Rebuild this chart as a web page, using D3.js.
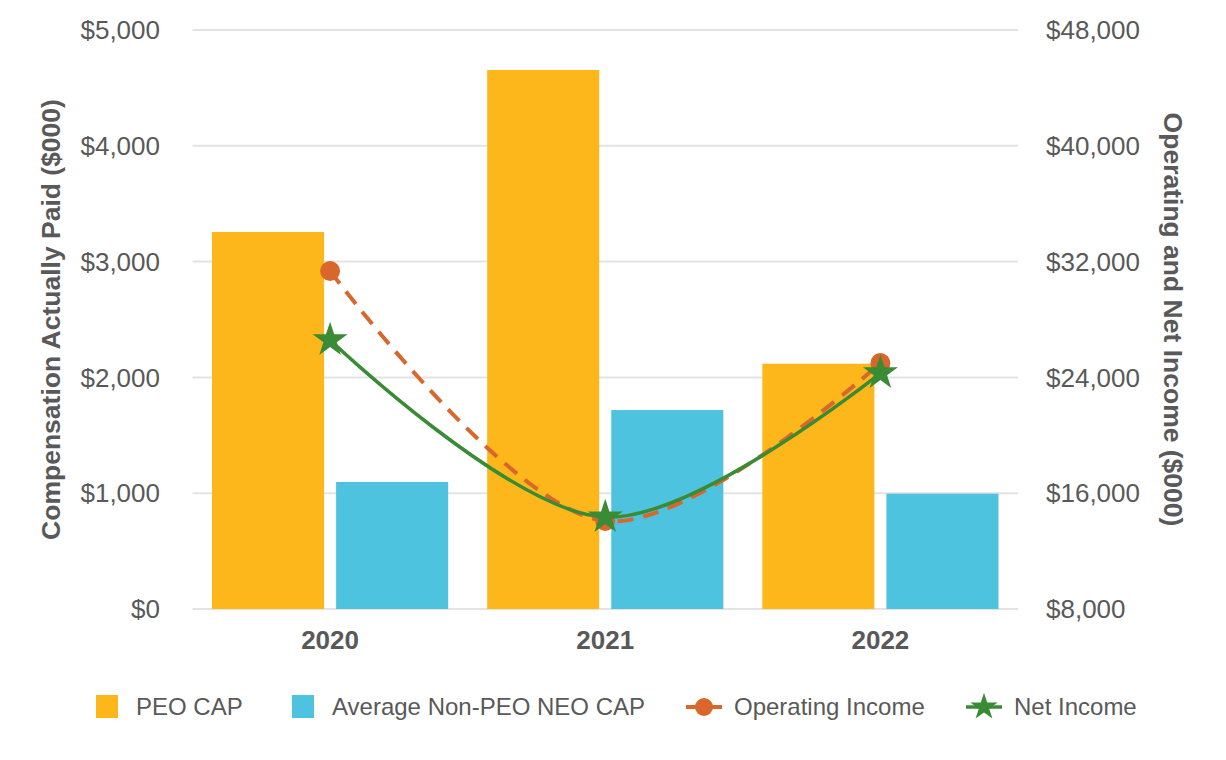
<!doctype html>
<html lang="en">
<head>
<meta charset="utf-8">
<title>Compensation Actually Paid vs Income</title>
<script src="https://d3js.org/d3.v7.min.js"></script>
<style>
  body { margin: 0; background: #fff; }
  text { font-family: "Liberation Sans", Arial, sans-serif; fill: #595959; }
</style>
</head>
<body>
<svg id="chart" width="1226" height="760"></svg>
<script>
// chart data
var years = ["2020", "2021", "2022"];
var peoCap = [3256, 4655, 2118];
var neoCap = [1097, 1718, 996];
var operatingIncome = [31350, 14080, 24990];
var netIncome = [26580, 14350, 24300];
var leftTicks = [0, 1000, 2000, 3000, 4000, 5000];
var rightTicks = [8000, 16000, 24000, 32000, 40000, 48000];

var svg = d3.select("#chart");
// plot box (note: "top" clashes with window.top)
var pLeft = 192.5, pRight = 1018, pTop = 30, pBottom = 609;

var x = d3.scaleBand().domain(years).range([pLeft, pRight]);
var x1 = d3.scaleBand().domain(["peo", "neo"]).range([19.5, x.bandwidth() - 19.5]).paddingInner(0.097);
var yL = d3.scaleLinear().domain([0, 5000]).range([pBottom, pTop]);
var yR = d3.scaleLinear().domain([8000, 48000]).range([pBottom, pTop]);
var money = d3.format("$,");

// gridlines
svg.append("g")
   .selectAll("line")
   .data(leftTicks)
   .enter().append("line")
   .attr("x1", pLeft).attr("x2", pRight)
   .attr("y1", function(d) { return yL(d); })
   .attr("y2", function(d) { return yL(d); })
   .attr("stroke", "#e3e3e3")
   .attr("stroke-width", 2);

// left axis labels
svg.append("g")
   .selectAll("text")
   .data(leftTicks)
   .enter().append("text")
   .attr("x", 160).attr("y", function(d) { return yL(d); })
   .attr("dy", "0.35em")
   .attr("text-anchor", "end")
   .style("font-size", "26px")
   .text(function(d) { return money(d); });

// right axis labels
svg.append("g")
   .selectAll("text")
   .data(rightTicks)
   .enter().append("text")
   .attr("x", 1046).attr("y", function(d) { return yR(d); })
   .attr("dy", "0.35em")
   .style("font-size", "26px")
   .text(function(d) { return money(d); });

// year labels
svg.append("g")
   .selectAll("text")
   .data(years)
   .enter().append("text")
   .attr("x", function(d) { return x(d) + x.bandwidth() / 2; })
   .attr("y", 649)
   .attr("text-anchor", "middle")
   .style("font-size", "26px")
   .style("font-weight", "bold")
   .text(function(d) { return d; });

// axis titles
svg.append("text")
   .attr("transform", "translate(60," + (pTop + pBottom) / 2 + ") rotate(-90)")
   .attr("text-anchor", "middle")
   .style("font-size", "26.5px")
   .style("font-weight", "bold")
   .text("Compensation Actually Paid ($000)");

svg.append("text")
   .attr("transform", "translate(1164," + (pTop + pBottom) / 2 + ") rotate(90)")
   .attr("text-anchor", "middle")
   .style("font-size", "26.5px")
   .style("font-weight", "bold")
   .text("Operating and Net Income ($000)");

// bars
var colors = { peo: "#FDB71B", neo: "#4DC3DF" };
var groups = svg.append("g")
   .selectAll("g")
   .data(years)
   .enter().append("g")
   .attr("transform", function(d) { return "translate(" + x(d) + ",0)"; });

groups.selectAll("rect")
   .data(function(d, i) { return [{ k: "peo", v: peoCap[i] }, { k: "neo", v: neoCap[i] }]; })
   .enter().append("rect")
   .attr("x", function(d) { return x1(d.k); })
   .attr("width", x1.bandwidth())
   .attr("y", function(d) { return yL(d.v); })
   .attr("height", function(d) { return pBottom - yL(d.v); })
   .attr("fill", function(d) { return colors[d.k]; });

// lines
var cx = function(d, i) { return x(years[i]) + x.bandwidth() / 2; };
var line = d3.line()
   .x(cx)
   .y(function(d) { return yR(d); })
   .curve(d3.curveCatmullRom.alpha(0.5));

svg.append("path")
   .attr("d", line(operatingIncome))
   .attr("fill", "none")
   .attr("stroke", "#D9662B")
   .attr("stroke-width", 4)
   .attr("stroke-dasharray", "16,10");

svg.append("g")
   .selectAll("circle")
   .data(operatingIncome)
   .enter().append("circle")
   .attr("cx", cx)
   .attr("cy", function(d) { return yR(d); })
   .attr("r", 10)
   .attr("fill", "#D9662B");

svg.append("path")
   .attr("d", line(netIncome))
   .attr("fill", "none")
   .attr("stroke", "#3A8B35")
   .attr("stroke-width", 3.5);

var star = d3.symbol().type(d3.symbolStar).size(380);
svg.append("g")
   .selectAll("path")
   .data(netIncome)
   .enter().append("path")
   .attr("d", star)
   .attr("transform", function(d, i) { return "translate(" + cx(d, i) + "," + yR(d) + ")"; })
   .attr("fill", "#3A8B35");

// legend
var legend = svg.append("g").style("font-size", "24px");
legend.append("rect").attr("x", 96).attr("y", 695).attr("width", 22).attr("height", 23).attr("fill", colors.peo);
legend.append("text").attr("x", 136).attr("y", 707).attr("dy", "0.35em").text("PEO CAP");
legend.append("rect").attr("x", 292).attr("y", 695).attr("width", 22).attr("height", 23).attr("fill", colors.neo);
legend.append("text").attr("x", 332).attr("y", 707).attr("dy", "0.35em").text("Average Non-PEO NEO CAP");

legend.append("line").attr("x1", 686).attr("x2", 722).attr("y1", 707).attr("y2", 707)
   .attr("stroke", "#D9662B").attr("stroke-width", 4);
legend.append("circle").attr("cx", 704).attr("cy", 707).attr("r", 9).attr("fill", "#D9662B");
legend.append("text").attr("x", 734).attr("y", 707).attr("dy", "0.35em").text("Operating Income");

legend.append("line").attr("x1", 966).attr("x2", 1002).attr("y1", 707).attr("y2", 707)
   .attr("stroke", "#3A8B35").attr("stroke-width", 3.5);
legend.append("path").attr("d", d3.symbol().type(d3.symbolStar).size(230))
   .attr("transform", "translate(984,707)").attr("fill", "#3A8B35");
legend.append("text").attr("x", 1014).attr("y", 707).attr("dy", "0.35em").text("Net Income");
</script>
</body>
</html>
